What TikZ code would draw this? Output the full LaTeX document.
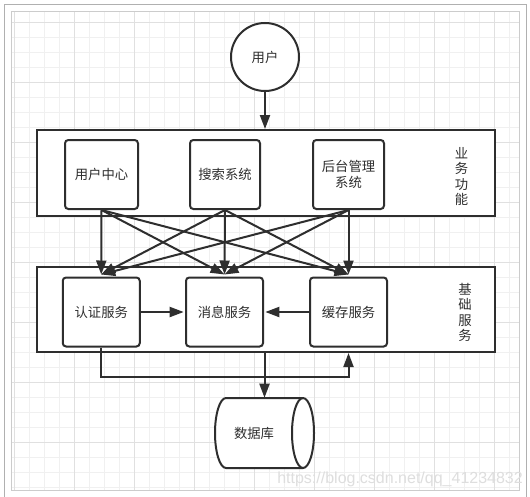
\documentclass[tikz,border=0pt]{standalone}
\usepackage{fontspec}
\setmainfont{Liberation Sans}
\newfontfamily\cjk{Noto Sans CJK SC}
\usetikzlibrary{arrows.meta,calc}
\definecolor{ink}{HTML}{2E2E2E}
\definecolor{gridminor}{HTML}{F0F0F0}
\definecolor{gridmajor}{HTML}{E0E0E0}
\definecolor{frameout}{HTML}{B0B0B0}
\definecolor{framein}{HTML}{CCCCCC}
\definecolor{wmark}{HTML}{DEDEDE}
\begin{document}
\begin{tikzpicture}[x=0.75pt,y=-0.75pt,
  stroke/.style={draw=ink,line width=1.5pt},
  cjktext/.style={text=ink,font=\cjk\fontsize{10}{12}\selectfont,align=center},
  box/.style={stroke,fill=white,rounded corners=2.5pt,inner sep=0pt,cjktext,minimum height=51.75pt},
  panel/.style={stroke,fill=white,inner sep=0pt,minimum width=343.5pt},
  arr/.style={stroke,-{Triangle[length=10.5pt,width=7.5pt]}},
  vlabel/.style={inner sep=0pt,text=ink,font=\cjk\fontsize{10}{11.6}\selectfont,align=center},
  gminor/.style={draw=gridminor,line width=0.75pt},
  gmajor/.style={draw=gridmajor,line width=0.75pt}
]
% canvas
\fill[white] (0,0) rectangle (530,496);
\useasboundingbox (0,0) rectangle (530,496);
% grid
\begin{scope}
  \clip (12,12) rectangle (519,490);
  \foreach \k in {0,...,33} \draw[gminor] ({14.3+15*\k},12) -- ({14.3+15*\k},490);
  \foreach \k in {1,...,32} \draw[gminor] (12,{7.3+15*\k}) -- (519,{7.3+15*\k});
  \foreach \k in {0,...,8} \draw[gmajor] ({14.3+60*\k},12) -- ({14.3+60*\k},490);
  \foreach \k in {0,...,7} \draw[gmajor] (12,{22.3+60*\k}) -- (519,{22.3+60*\k});
\end{scope}
\draw[framein,line width=0.75pt] (11.5,11.5) rectangle (519.5,490.5);
\draw[frameout,line width=0.75pt] (4,500) -- (4,4) -- (526.5,4) -- (526.5,500);

% user
\node[stroke,fill=white,circle,minimum size=51pt,inner sep=0pt,cjktext] (user) at (265,57) {用户};

% business panel
\node[panel,minimum height=64.5pt] (biz) at (266,173) {};
\node[box,minimum width=54.75pt] (uc) at (101.5,174.5) {用户中心};
\node[box,minimum width=52.5pt] (ss) at (225,174.5) {搜索系统};
\node[box,minimum width=53.25pt] (ht) at (348.5,174.5) {后台管理\\系统};
\node[vlabel] (bizlab) at (461.5,176.5) {业\\务\\功\\能};

% base panel
\node[panel,minimum height=63.75pt] (base) at (266,309.5) {};
\node[box,minimum width=57.75pt] (rz) at (101.25,312) {认证服务};
\node[box,minimum width=57.75pt] (xx) at (224.5,312) {消息服务};
\node[box,minimum width=57.75pt] (hc) at (348.5,312) {缓存服务};
\node[vlabel] (baselab) at (465,312.5) {基\\础\\服\\务};

% database cylinder
\draw[stroke,fill=white] (303,398) -- (226,398)
  arc[start angle=90,end angle=270,x radius=8.25pt,y radius=26.25pt]
  -- (303,468)
  arc[start angle=270,end angle=450,x radius=8.25pt,y radius=26.25pt] -- cycle;
\draw[stroke] (303,398) arc[start angle=90,end angle=270,x radius=8.25pt,y radius=26.25pt];
\node[minimum width=74.25pt,minimum height=52.5pt,inner sep=0pt] (db) at (264.5,433) {};
\node[cjktext,inner sep=0pt] (dbtxt) at (254,433) {数据库};

% connectors
\draw[arr] (user.south) -- (user.south |- biz.north);
\foreach \s in {uc,ss,ht}
  \foreach \t in {rz,xx,hc}
    \draw[arr] (\s.south) -- ($(\t.north)+(0,-2)$);
\draw[arr,shorten >=1pt] (rz.east) -- (xx.west);
\draw[arr,shorten >=1pt] (hc.west) -- (xx.east);
\coordinate (lb) at (101.25,377);
\coordinate (rb) at (348.5,377);
\draw[arr] (rz.south) -- (lb) -- (rb) -- (rb |- base.south);
\draw[arr] (db.north |- base.south) -- (db.north);

% watermark
\node[anchor=base west,inner sep=0pt,text=wmark,font=\fontsize{12}{14}\selectfont] (wm) at (277,483) {https://blog.csdn.net/qq\_41234832};
\end{tikzpicture}
\end{document}
